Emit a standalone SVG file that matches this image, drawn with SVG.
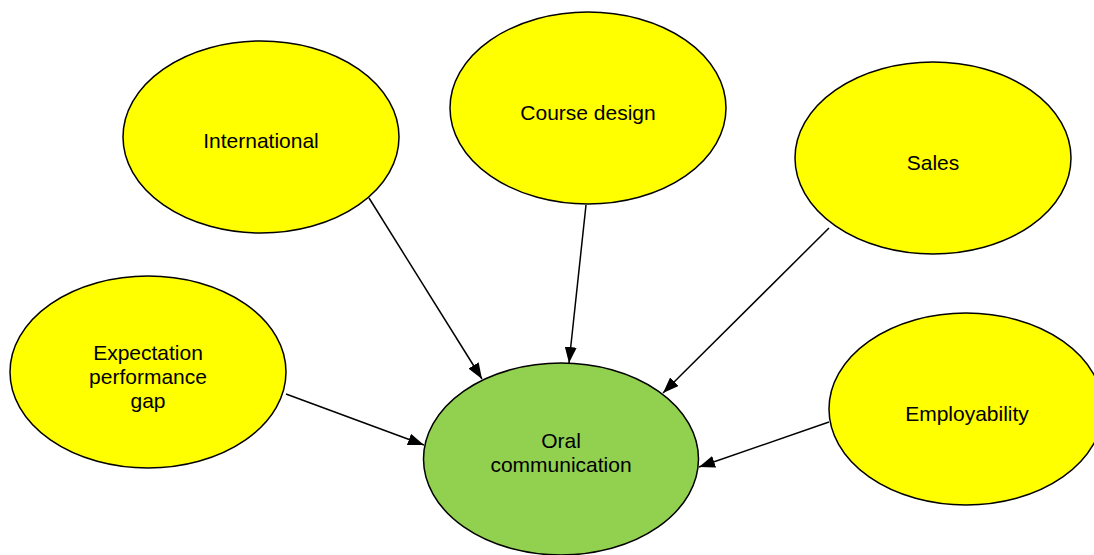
<svg xmlns="http://www.w3.org/2000/svg" width="1094" height="555" viewBox="0 0 1094 555">
  <style>
    .node ellipse { stroke: #000; stroke-width: 1.5; }
    .factor ellipse { fill: #FFFF00; }
    .core ellipse { fill: #92D050; }
    .node text { font-family: "Liberation Sans", Arial, sans-serif; font-size: 21px; fill: #000; text-anchor: middle; }
    .link { stroke: #000; stroke-width: 1.5; fill: none; marker-end: url(#arrow); }
  </style>
  <defs>
    <marker id="arrow" markerUnits="userSpaceOnUse" markerWidth="17" markerHeight="12" refX="16" refY="6" orient="auto">
      <path d="M0,0 L16,6 L0,12 z" fill="#000"/>
    </marker>
  </defs>
  <rect width="1094" height="555" fill="#fff"/>

  <!-- connectors into the central node -->
  <g id="connectors">
    <line class="link" x1="369" y1="198" x2="482" y2="379"/>
    <line class="link" x1="586" y1="205" x2="569" y2="363"/>
    <line class="link" x1="829" y1="228" x2="663" y2="393"/>
    <line class="link" x1="286" y1="394" x2="424" y2="445"/>
    <line class="link" x1="829" y1="422" x2="699" y2="467"/>
  </g>

  <g id="node-international" class="node factor">
    <ellipse cx="261" cy="137" rx="138" ry="96"/>
    <text x="261" y="148">International</text>
  </g>

  <g id="node-course-design" class="node factor">
    <ellipse cx="588" cy="108" rx="138" ry="96"/>
    <text x="588" y="120">Course design</text>
  </g>

  <g id="node-sales" class="node factor">
    <ellipse cx="933" cy="158" rx="138" ry="96"/>
    <text x="933" y="170">Sales</text>
  </g>

  <g id="node-expectation" class="node factor">
    <ellipse cx="148" cy="372" rx="138" ry="96"/>
    <text x="148" y="360">Expectation</text>
    <text x="148" y="384">performance</text>
    <text x="148" y="408">gap</text>
  </g>

  <g id="node-employability" class="node factor">
    <ellipse cx="966" cy="409" rx="137" ry="96"/>
    <text x="967" y="421">Employability</text>
  </g>

  <g id="node-oral" class="node core">
    <ellipse cx="561" cy="459" rx="137.5" ry="96"/>
    <text x="561" y="448">Oral</text>
    <text x="561" y="472">communication</text>
  </g>
</svg>
